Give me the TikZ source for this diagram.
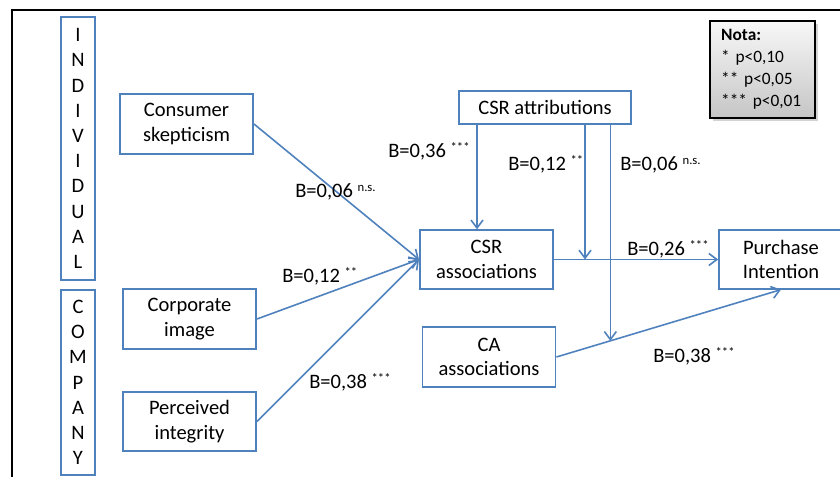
\documentclass[tikz,border=0pt]{standalone}
\usepackage{fontspec}
\setmainfont{Carlito}
\usetikzlibrary{arrows.meta,shadows}
\definecolor{boxblue}{RGB}{79,129,189}
\newcommand{\sig}[1]{\textsuperscript{\fontsize{9.5}{9.5}\selectfont #1}}
\begin{document}
\begin{tikzpicture}[x=0.75pt,y=-0.75pt,
  font=\fontsize{15.4}{18.5}\selectfont,
  box/.style={draw=boxblue,line width=1.2pt,fill=white,align=center,inner sep=0pt},
  side/.style={box,minimum width=25.5pt,font=\fontsize{15.4}{18.9}\selectfont},
  link/.style={boxblue,line width=1.2pt,-{Straight Barb[length=6pt,width=9pt]}},
  coef/.style={anchor=base west,inner sep=0pt}]
\clip (0,0) rectangle (840,477);
\draw[line width=1.5pt] (12,480) -- (12,10) -- (845,10);

\node[side,minimum height=197pt] (indiv) at (78,148.5) {I\\N\\D\\I\\V\\I\\D\\U\\A\\L};
\node[side,minimum height=139pt] (comp) at (78,382.5) {C\\O\\M\\P\\A\\N\\Y};

\node[box,minimum width=100pt,minimum height=45pt] (skep) at (186.5,124) {Consumer\\skepticism};
\node[box,minimum width=100pt,minimum height=45pt] (corp) at (189.5,319) {Corporate\\image};
\node[box,minimum width=100pt,minimum height=44pt] (integ) at (189.5,421.5) {Perceived\\integrity};
\node[box,minimum width=129pt,minimum height=25pt] (attr) at (545,107.5) {CSR attributions};
\node[box,minimum width=100pt,minimum height=44pt] (csra) at (486.5,259.5) {CSR\\associations};
\node[box,minimum width=100pt,minimum height=45pt] (caa) at (489,357) {CA\\associations};
\node[box,minimum width=93pt,minimum height=44pt] (pi) at (781,259.5) {Purchase\\Intention};

\node[draw=black,line width=1.2pt,top color=gray!6,bottom color=gray!45,
  drop shadow={shadow xshift=2pt,shadow yshift=-2pt,opacity=0.35},
  align=left,text width=62pt,inner xsep=8.5pt,minimum height=72.75pt,
  font=\fontsize{13}{16.5}\selectfont] (nota) at (762.5,69.5)
  {\textbf{Nota:}\\{*} p<0,10\\{**} p<0,05\\{***} p<0,01};

\coordinate (m1) at (csra.east -| 585,0);
\path (caa.east) -- (pi.south) coordinate[pos=0.24] (m2);

\draw[link] (skep.east) -- (csra.west);
\draw[link] (corp.east) -- (csra.west);
\draw[link] (integ.east) -- (csra.west);
\draw[link] (attr.south -| 477,0) -- (csra.north -| 477,0);
\draw[link] (attr.south -| m1) -- (m1);
\draw[link] (attr.south -| m2) -- (m2);
\draw[link] (csra.east) -- (pi.west);
\draw[link] (caa.east) -- (pi.south);

\node[coef] (b36) at (388,158) {B=0,36 \sig{***}};
\node[coef] (b12a) at (508,171) {B=0,12 \sig{**}};
\node[coef] (b06a) at (620,171) {B=0,06 \sig{n.s.}};
\node[coef] (b06b) at (295,198) {B=0,06 \sig{n.s.}};
\node[coef] (b12b) at (282,283) {B=0,12 \sig{**}};
\node[coef] (b38a) at (309,389) {B=0,38 \sig{***}};
\node[coef] (b26) at (627,256) {B=0,26 \sig{***}};
\node[coef] (b38b) at (653,363) {B=0,38 \sig{***}};
\end{tikzpicture}
\end{document}
